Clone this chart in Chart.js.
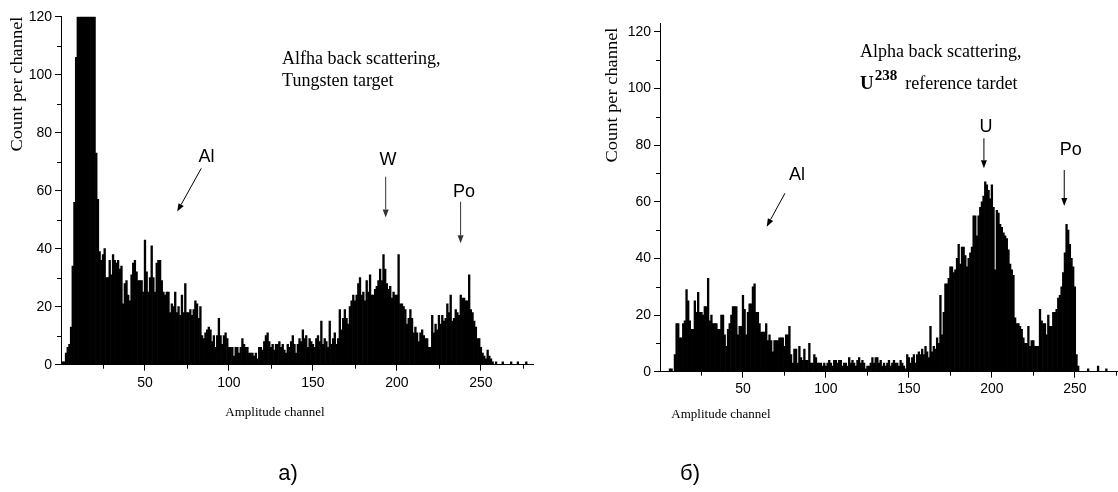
<!DOCTYPE html>
<html>
<head>
<meta charset="utf-8">
<script src="https://cdn.jsdelivr.net/npm/chart.js@4.4.1/dist/chart.umd.min.js"></script>
<style>
  html, body { margin: 0; padding: 0; background: #fff; }
  #page { position: relative; width: 1118px; height: 492px; overflow: hidden; }
  .box { position: absolute; top: 0; height: 492px; }
</style>
</head>
<body>
<div id="page">
  <div class="box" style="left:0;width:560px"><canvas id="chartW"></canvas></div>
  <div class="box" style="left:560px;width:558px"><canvas id="chartU"></canvas></div>
</div>
<script>
// counts per channel, starting at channel 1
const firstChannel = 1;

const countsW = [
  1, 1, 4, 6, 7, 13, 34, 56, 106, 120,
  120, 120, 120, 120, 120, 120, 120, 120, 120, 120,
  73, 57, 39, 36, 38, 40, 30, 30, 36, 31,
  38, 36, 35, 36, 33, 34, 21, 28, 29, 24,
  22, 31, 35, 36, 32, 29, 29, 29, 25, 43,
  32, 25, 30, 41, 30, 25, 35, 36, 36, 29,
  25, 24, 25, 25, 18, 21, 20, 25, 18, 20,
  17, 24, 18, 28, 18, 18, 19, 17, 19, 22,
  21, 16, 20, 10, 9, 11, 12, 13, 12, 8,
  10, 6, 10, 16, 10, 7, 10, 11, 9, 6,
  6, 6, 3, 6, 6, 4, 6, 9, 7, 6,
  6, 4, 4, 4, 3, 4, 2, 6, 6, 5,
  8, 10, 11, 8, 6, 7, 5, 7, 7, 8,
  6, 7, 5, 4, 7, 6, 8, 10, 7, 4,
  7, 9, 8, 12, 9, 10, 6, 9, 8, 7,
  6, 9, 10, 8, 15, 7, 9, 8, 6, 15,
  7, 9, 11, 7, 9, 19, 12, 16, 19, 16,
  14, 20, 22, 24, 22, 24, 28, 30, 24, 25,
  22, 29, 25, 31, 24, 24, 26, 27, 29, 33,
  29, 38, 33, 28, 26, 27, 23, 25, 24, 24,
  38, 21, 21, 20, 19, 14, 16, 19, 16, 11,
  13, 11, 8, 11, 12, 10, 9, 9, 6, 6,
  17, 11, 14, 12, 17, 14, 17, 15, 16, 21,
  18, 24, 15, 16, 19, 18, 17, 24, 23, 23,
  22, 22, 31, 19, 18, 15, 13, 9, 9, 6,
  4, 3, 2, 5, 3, 2, 1, 0, 1, 0,
  0, 0, 1, 0, 0, 0, 0, 1, 0, 0,
  0, 1, 0, 0, 0, 0, 1, 0, 0
];

const countsU = [
  0, 0, 0, 0, 0, 1, 1, 0, 6, 17,
  17, 12, 12, 17, 18, 29, 25, 18, 15, 15,
  25, 21, 28, 21, 21, 20, 23, 23, 33, 18,
  20, 17, 17, 17, 15, 15, 20, 20, 13, 9,
  15, 17, 20, 23, 23, 23, 13, 16, 16, 27,
  22, 13, 21, 24, 24, 30, 31, 21, 21, 17,
  14, 14, 14, 17, 11, 13, 11, 7, 11, 11,
  11, 12, 12, 12, 9, 13, 13, 16, 6, 3,
  8, 8, 3, 9, 5, 4, 8, 4, 4, 10,
  3, 3, 6, 5, 3, 3, 3, 2, 3, 2,
  3, 4, 3, 2, 4, 4, 3, 4, 4, 2,
  3, 3, 2, 5, 3, 4, 3, 2, 4, 5,
  3, 4, 3, 1, 2, 2, 3, 5, 3, 5,
  5, 3, 4, 2, 3, 2, 3, 4, 2, 3,
  4, 3, 3, 2, 4, 3, 2, 1, 6, 5,
  3, 5, 6, 3, 6, 7, 6, 8, 6, 9,
  7, 5, 16, 7, 9, 8, 12, 10, 27, 13,
  21, 31, 31, 33, 37, 37, 35, 36, 40, 45,
  38, 44, 44, 41, 37, 40, 42, 44, 55, 55,
  48, 55, 58, 60, 62, 67, 66, 64, 61, 66,
  58, 36, 57, 56, 52, 51, 49, 48, 47, 43,
  38, 36, 34, 19, 17, 17, 16, 15, 12, 10,
  10, 16, 9, 11, 11, 9, 9, 9, 22, 18,
  17, 17, 13, 20, 16, 16, 21, 21, 22, 26,
  27, 30, 35, 42, 52, 50, 45, 40, 37, 30,
  6, 2, 0, 0, 0, 0, 0, 1, 0, 0,
  0, 0, 0, 2, 0, 0, 0, 0, 1, 0
];

const xTicks = [50, 100, 150, 200, 250];
const xMinorTicks = [25, 75, 125, 175, 225, 275];
const yTicks = [0, 20, 40, 60, 80, 100, 120];
const yMinorTicks = [10, 30, 50, 70, 90, 110];

const xTitle = 'Amplitude channel';
const yTitle = 'Count per channel';
const captionW = ['Alfha back scattering,', 'Tungsten target'];
const captionU = ['Alpha back scattering,', 'U', '238', 'reference tardet'];
const peaksW = ['Al', 'W', 'Po'];
const peaksU = ['Al', 'U', 'Po'];
const panelLabels = ['а)', 'б)'];

Chart.defaults.font.family = '"Liberation Sans", Arial, sans-serif';
Chart.defaults.color = '#000';

function textAt(ctx, str, x, y, font, align, base) {
  ctx.font = font;
  ctx.textAlign = align || 'left';
  ctx.textBaseline = base || 'alphabetic';
  ctx.fillText(str, x, y);
}

function arrow(ctx, x1, y1, x2, y2, color) {
  const a = Math.atan2(y2 - y1, x2 - x1);
  const len = 8, half = 3;
  ctx.strokeStyle = color;
  ctx.fillStyle = color;
  ctx.lineWidth = 1;
  ctx.beginPath();
  ctx.moveTo(x1, y1);
  ctx.lineTo(x2 - len * Math.cos(a), y2 - len * Math.sin(a));
  ctx.stroke();
  ctx.beginPath();
  ctx.moveTo(x2, y2);
  ctx.lineTo(x2 - len * Math.cos(a) + half * Math.sin(a), y2 - len * Math.sin(a) - half * Math.cos(a));
  ctx.lineTo(x2 - len * Math.cos(a) - half * Math.sin(a), y2 - len * Math.sin(a) + half * Math.cos(a));
  ctx.closePath();
  ctx.fill();
}

// extra drawing: minor ticks, axis titles, captions, peak labels and arrows
function notesPlugin(cfg) {
  return {
    id: 'notes',
    afterDraw(chart) {
      const ctx = chart.ctx;
      const xs = chart.scales.x, ys = chart.scales.y;
      const area = chart.chartArea;
      const px = v => xs.getPixelForValue(v);
      const py = v => ys.getPixelForValue(v);
      ctx.save();

      ctx.strokeStyle = '#000';
      ctx.lineWidth = 1;
      ctx.beginPath();
      xMinorTicks.forEach(v => {
        if (v > xs.max) return;
        const x = Math.round(px(v)) + 0.5;
        ctx.moveTo(x, area.bottom);
        ctx.lineTo(x, area.bottom + 4);
      });
      yMinorTicks.forEach(v => {
        const y = Math.round(py(v)) + 0.5;
        ctx.moveTo(area.left, y);
        ctx.lineTo(area.left - 4, y);
      });
      ctx.stroke();

      ctx.fillStyle = '#000';
      // y title, rotated and a little stretched
      ctx.save();
      ctx.translate(cfg.yTitle[0], cfg.yTitle[1]);
      ctx.rotate(-Math.PI / 2);
      ctx.scale(1.15, 1);
      textAt(ctx, yTitle, 0, 0, '16px "Liberation Serif"', 'center', 'middle');
      ctx.restore();

      textAt(ctx, xTitle, cfg.xTitle[0], cfg.xTitle[1], '13px "Liberation Serif"', 'center');
      textAt(ctx, cfg.panel, cfg.panelPos[0], cfg.panelPos[1], '22px "Liberation Sans"', 'center');

      cfg.caption(ctx, px, py);

      cfg.peaks.forEach((p, i) => {
        const n = cfg.names[i];
        ctx.fillStyle = '#000';
        textAt(ctx, n, px(p.at[0]), py(p.at[1]), '18px "Liberation Sans"', 'center', 'middle');
        arrow(ctx, px(p.from[0]), py(p.from[1]), px(p.to[0]), py(p.to[1]), p.color || '#000');
      });
      ctx.restore();
    }
  };
}

function makeChart(id, counts, cfg) {
  const labels = counts.map((_, i) => firstChannel + i);
  return new Chart(document.getElementById(id), {
    type: 'bar',
    data: {
      labels: labels,
      datasets: [{
        data: counts,
        backgroundColor: '#000',
        borderWidth: 0,
        barPercentage: 1,
        categoryPercentage: 1
      }]
    },
    options: {
      responsive: true,
      maintainAspectRatio: false,
      animation: false,
      layout: { padding: { top: cfg.top, right: cfg.right, left: 0, bottom: 0 } },
      plugins: { legend: { display: false }, tooltip: { enabled: false } },
      scales: {
        x: {
          type: 'linear',
          min: 0,
          max: cfg.xMax,
          offset: false,
          afterBuildTicks: s => { s.ticks = xTicks.map(v => ({ value: v })); },
          afterFit: s => { s.height = cfg.xHeight; },
          ticks: {
            autoSkip: false,
            maxRotation: 0,
            padding: cfg.xPad,
            font: { size: 14 },
            color: '#000'
          },
          grid: { offset: false, drawOnChartArea: false, tickLength: 6, tickColor: '#000', tickWidth: 1 },
          border: { display: true, color: '#000', width: 1 }
        },
        y: {
          min: 0,
          max: cfg.yMax,
          afterBuildTicks: s => { s.ticks = yTicks.map(v => ({ value: v })); },
          afterFit: s => { s.width = cfg.yWidth; },
          ticks: { padding: 3, font: { size: 14 }, color: '#000' },
          grid: { drawOnChartArea: false, tickLength: 6, tickColor: '#000', tickWidth: 1 },
          border: { display: true, color: '#000', width: 1 }
        }
      }
    },
    plugins: [notesPlugin(cfg)]
  });
}

makeChart('chartW', countsW, {
  top: 16.7, right: 27, xMax: 281, yMax: 120, xHeight: 127.3, yWidth: 61, xPad: 4,
  yTitle: [18, 84], xTitle: [275, 416], panel: panelLabels[0], panelPos: [288, 480],
  names: peaksW,
  peaks: [
    { at: [86.6, 71.6], from: [83.5, 67.7], to: [69.2, 52.8] },
    { at: [194.7, 70.6], from: [193.3, 64.8], to: [193.3, 50.8], color: '#333' },
    { at: [239.9, 59.7], from: [237.9, 56.2], to: [237.9, 41.9], color: '#333' }
  ],
  caption: (ctx, px, py) => {
    ctx.fillStyle = '#000';
    textAt(ctx, captionW[0], px(131.6), py(103.6), '18px "Liberation Serif"');
    textAt(ctx, captionW[1], px(131.6), py(96.1), '18px "Liberation Serif"');
  }
});

makeChart('chartU', countsU, {
  top: 23.3, right: 0, xMax: 276, yMax: 123, xHeight: 120.3, yWidth: 100, xPad: 3,
  yTitle: [53, 95], xTitle: [161, 418], panel: panelLabels[1], panelPos: [130, 480],
  names: peaksU,
  peaks: [
    { at: [82.5, 69.6], from: [75.3, 63], to: [64.3, 51.2] },
    { at: [196.4, 86.4], from: [195.2, 82.4], to: [195.2, 71.8] },
    { at: [247.6, 78.4], from: [243.6, 71.2], to: [243.6, 58.5] }
  ],
  caption: (ctx, px, py) => {
    ctx.fillStyle = '#000';
    const x0 = px(120.5);
    textAt(ctx, captionU[0], x0, py(111), '18px "Liberation Serif"');
    const base = py(99.8);
    textAt(ctx, captionU[1], x0, base, 'bold 19px "Liberation Serif"');
    ctx.font = 'bold 19px "Liberation Serif"';
    const x1 = x0 + ctx.measureText(captionU[1]).width + 1;
    textAt(ctx, captionU[2], x1, base - 9, 'bold 15px "Liberation Serif"');
    ctx.font = 'bold 15px "Liberation Serif"';
    const x2 = x1 + ctx.measureText(captionU[2]).width + 8;
    textAt(ctx, captionU[3], x2, base, '18px "Liberation Serif"');
  }
});
</script>
</body>
</html>
